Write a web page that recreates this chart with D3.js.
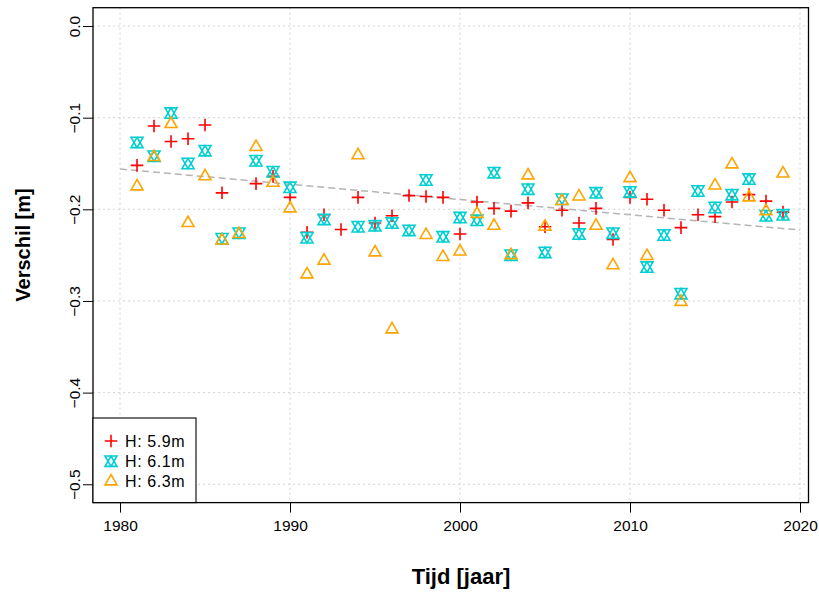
<!DOCTYPE html>
<html>
<head>
<meta charset="utf-8">
<script src="https://cdn.jsdelivr.net/npm/d3@7"></script>
<style>
  html, body { margin: 0; padding: 0; background: #ffffff; }
  svg { display: block; font-family: "Liberation Sans", Arial, sans-serif; }
</style>
</head>
<body>
<svg id="chart" width="819" height="592"></svg>
<script>
// Yearly difference per threshold height
const years = d3.range(1981, 2020);

const seriesH59 = [
  -0.152, -0.109, -0.126, -0.123, -0.108, -0.182, null, -0.172, -0.164, -0.187,
  -0.225, -0.206, -0.222, -0.187, -0.215, -0.207, -0.185, -0.186, -0.187, -0.227,
  -0.192, -0.199, -0.202, -0.193, -0.219, -0.201, -0.215, -0.199, -0.233, -0.187,
  -0.189, -0.201, -0.220, -0.206, -0.208, -0.192, -0.184, -0.191, -0.203
];
const seriesH61 = [
  -0.127, -0.142, -0.095, -0.150, -0.136, -0.232, -0.226, -0.147, -0.159, -0.176,
  -0.231, -0.211, null, -0.219, -0.218, -0.215, -0.223, -0.168, -0.230, -0.209,
  -0.212, -0.160, -0.250, -0.178, -0.247, -0.189, -0.227, -0.182, -0.226, -0.181,
  -0.263, -0.228, -0.292, -0.180, -0.198, -0.184, -0.167, -0.207, -0.206
];
const seriesH63 = [
  -0.175, -0.143, -0.107, -0.215, -0.164, -0.234, -0.227, -0.132, -0.171, -0.199,
  -0.271, -0.256, null, -0.141, -0.247, -0.331, null, -0.228, -0.252, -0.246,
  -0.205, -0.218, -0.250, -0.163, -0.219, -0.191, -0.186, -0.218, -0.261, -0.166,
  -0.251, null, -0.301, null, -0.174, -0.151, -0.187, -0.202, -0.161
];

const legendLabels = ["H: 5.9m", "H: 6.1m", "H: 6.3m"];

// Linear trend, value at both ends of the period
const trendYears = [1980, 2020];
const trendValues = [-0.156, -0.2226];

const xTicks = [1980, 1990, 2000, 2010, 2020];
const yTicks = [0.0, -0.1, -0.2, -0.3, -0.4, -0.5];

// ---- layout ----
const svg = d3.select("#chart");
const plot = { left: 93, right: 808.5, top: 7.7, bottom: 502.6 };

const x = d3.scaleLinear().domain([1978.41, 2020.5]).range([plot.left, plot.right]);
const y = d3.scaleLinear().domain([-0.52, 0.02]).range([plot.bottom, plot.top]);

// ---- point symbols ----
const U = 4.45;
const symPlus = {
  draw(ctx, s) {
    const a = Math.SQRT2 * s;
    ctx.moveTo(-a, 0); ctx.lineTo(a, 0);
    ctx.moveTo(0, -a); ctx.lineTo(0, a);
  }
};
const symTriangle = {
  draw(ctx, s) {
    const r = 1.5551 * s, yc = 0.7776 * s, xc = 1.3468 * s;
    ctx.moveTo(0, -r); ctx.lineTo(xc, yc); ctx.lineTo(-xc, yc); ctx.closePath();
  }
};
const symStar = {
  draw(ctx, s) {
    const hh = 0.5 * (0.7776 + 1.5551) * s, xc = 1.3468 * s;
    ctx.moveTo(0, -hh); ctx.lineTo(xc, hh); ctx.lineTo(-xc, hh); ctx.closePath();
    ctx.moveTo(0, hh); ctx.lineTo(xc, -hh); ctx.lineTo(-xc, -hh); ctx.closePath();
  }
};

const series = [
  { values: seriesH59, color: "#FF0000", type: symPlus },
  { values: seriesH61, color: "#00CED1", type: symStar },
  { values: seriesH63, color: "#FFA500", type: symTriangle }
];

// ---- grid ----
const grid = svg.append("g").attr("stroke", "#d3d3d3").attr("stroke-width", 1)
  .attr("stroke-dasharray", "2,3");
grid.selectAll("line.v").data(xTicks).join("line")
  .attr("x1", d => x(d)).attr("x2", d => x(d))
  .attr("y1", plot.top).attr("y2", plot.bottom);
grid.selectAll("line.h").data(yTicks).join("line")
  .attr("x1", plot.left).attr("x2", plot.right)
  .attr("y1", d => y(d)).attr("y2", d => y(d));

// ---- trend ----
svg.append("line")
  .attr("x1", x(trendYears[0])).attr("y1", y(trendValues[0]))
  .attr("x2", x(trendYears[1])).attr("y2", y(trendValues[1]))
  .attr("stroke", "#b4b4b4").attr("stroke-width", 1.5)
  .attr("stroke-dasharray", "7,4");

// ---- points ----
series.forEach(sr => {
  const pts = years.map((yr, i) => ({ yr, v: sr.values[i] })).filter(d => d.v !== null);
  svg.append("g").selectAll("path").data(pts).join("path")
    .attr("transform", d => `translate(${x(d.yr)},${y(d.v)})`)
    .attr("d", d3.symbol().type(sr.type).size(U))
    .attr("fill", "none").attr("stroke", sr.color).attr("stroke-width", 1.6);
});

// ---- axes ----
const xAxis = svg.append("g").attr("transform", `translate(0,${plot.bottom})`)
  .call(d3.axisBottom(x).tickValues(xTicks).tickFormat(d3.format("d"))
    .tickSize(10).tickSizeOuter(0).tickPadding(4));
xAxis.select(".domain").remove();
xAxis.selectAll("line").attr("stroke", "#000").attr("stroke-width", 1);
xAxis.selectAll("text").attr("font-size", "15.5px").attr("fill", "#000")
  .attr("y", 28.4).attr("dy", 0);

const yAxis = svg.append("g").attr("transform", `translate(${plot.left},0)`)
  .call(d3.axisLeft(y).tickValues(yTicks).tickFormat(d3.format(".1f"))
    .tickSize(10).tickSizeOuter(0));
yAxis.select(".domain").remove();
yAxis.selectAll("line").attr("stroke", "#000").attr("stroke-width", 1);
yAxis.selectAll("text")
  .attr("font-size", "15.5px").attr("fill", "#000")
  .attr("x", null).attr("dy", null)
  .attr("text-anchor", "middle")
  .attr("transform", "translate(-13,0) rotate(-90)");

// ---- frame ----
svg.append("rect")
  .attr("x", plot.left).attr("y", plot.top)
  .attr("width", plot.right - plot.left).attr("height", plot.bottom - plot.top)
  .attr("fill", "none").attr("stroke", "#000").attr("stroke-width", 1.3);

// ---- legend ----
const legend = svg.append("g");
legend.append("rect")
  .attr("x", plot.left).attr("y", 418)
  .attr("width", 196 - plot.left).attr("height", plot.bottom - 418)
  .attr("fill", "#fff").attr("stroke", "#000").attr("stroke-width", 1.1);
const rows = legend.selectAll("g.row").data(series).join("g")
  .attr("transform", (d, i) => `translate(111,${441 + i * 20.2})`);
rows.append("path")
  .attr("d", d => d3.symbol().type(d.type).size(U)())
  .attr("fill", "none").attr("stroke", d => d.color).attr("stroke-width", 1.6);
rows.append("text")
  .attr("x", 14).attr("y", 5.6)
  .attr("font-size", "16px").attr("letter-spacing", "0.6px").attr("fill", "#000")
  .text((d, i) => legendLabels[i]);

// ---- axis titles ----
svg.append("text")
  .attr("x", 461).attr("y", 584)
  .attr("text-anchor", "middle").attr("font-weight", "bold")
  .attr("font-size", "22px").attr("fill", "#000")
  .text("Tijd [jaar]");
svg.append("text")
  .attr("transform", "translate(30,245) rotate(-90)")
  .attr("text-anchor", "middle").attr("font-weight", "bold")
  .attr("font-size", "20px").attr("fill", "#000")
  .text("Verschil [m]");
</script>
</body>
</html>
